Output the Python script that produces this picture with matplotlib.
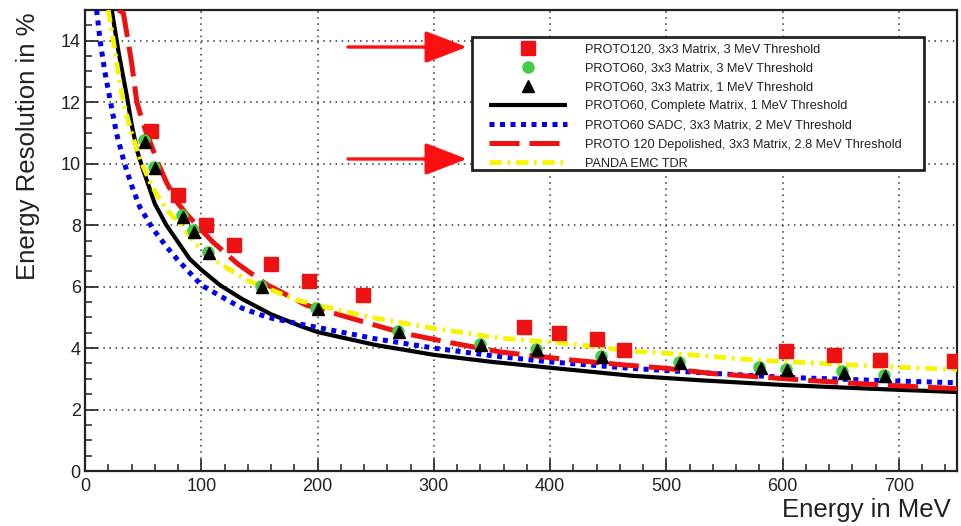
import matplotlib
matplotlib.use("Agg")
import matplotlib.pyplot as plt
from matplotlib.ticker import MultipleLocator
from matplotlib.patches import Rectangle

plt.rcParams['font.family'] = ['Liberation Sans', 'DejaVu Sans']

# ---------------- data ----------------
proto120_E = [56.5, 80, 104.5, 128.5, 160, 192.5, 239, 378, 407.5, 440, 464, 602.5, 644, 684, 747]
proto120_R = [11.06, 8.99, 8.0, 7.35, 6.75, 6.18, 5.72, 4.69, 4.50, 4.29, 3.93, 3.91, 3.76, 3.61, 3.58]

p60_3mev_E = [51, 59.5, 83, 92.5, 106, 151.5, 199, 269, 340, 388, 444, 511, 580, 602.5, 651.5, 687]
p60_3mev_R = [10.76, 9.90, 8.32, 7.83, 7.12, 6.03, 5.31, 4.57, 4.14, 3.97, 3.74, 3.54, 3.38, 3.32, 3.24, 3.13]

p60_1mev_E = [52, 60.5, 84, 93.5, 107, 152.5, 200, 270, 341, 389, 445, 512, 581, 603.5, 652.5, 688]
p60_1mev_R = [10.71, 9.86, 8.27, 7.78, 7.08, 5.99, 5.27, 4.53, 4.10, 3.93, 3.70, 3.50, 3.34, 3.28, 3.20, 3.09]

complete_E = [23, 26, 29, 32, 36, 40, 45, 50, 55, 60, 70, 80, 90, 100, 116, 135, 160, 185, 200,
              250, 300, 350, 400, 470, 530, 600, 680, 750]
complete_R = [15.0, 14.3, 13.6, 13.0, 12.2, 11.3, 10.4, 9.8, 9.25, 8.7, 8.0, 7.45, 6.9, 6.55, 6.05,
              5.6, 5.1, 4.72, 4.52, 4.1, 3.78, 3.55, 3.36, 3.1, 2.95, 2.8, 2.67, 2.57]

sadc_E = [10, 13, 17, 22, 27, 34, 40, 47, 58, 70, 80, 100, 116, 135, 157, 185, 203,
          250, 300, 350, 400, 470, 530, 600, 680, 750]
sadc_R = [15.0, 14.0, 13.0, 12.0, 11.0, 10.0, 9.3, 8.6, 7.9, 7.3, 6.86, 6.05, 5.7, 5.3, 5.0, 4.78, 4.65,
          4.3, 4.0, 3.75, 3.55, 3.34, 3.2, 3.05, 2.95, 2.87]

depol_E = [28.7, 33, 37, 40, 44.6, 50, 56, 63, 70, 80, 90, 100, 110, 131, 157, 170, 190, 229, 272,
           315, 358, 416, 464, 500, 540, 577, 617, 663, 700, 750]
depol_R = [15.0, 14.9, 14.0, 13.3, 12.0, 11.3, 10.7, 10.0, 9.4, 8.7, 8.25, 7.85, 7.45, 6.75, 6.05, 5.8,
           5.4, 4.97, 4.5, 4.17, 3.87, 3.62, 3.45, 3.34, 3.17, 3.07, 2.96, 2.85, 2.77, 2.68]

tdr_E = [20, 24.4, 28, 33, 40, 49, 57, 65, 75, 83, 95, 111, 140, 183, 243, 300, 358, 416, 470,
         525, 577, 634, 692, 750]
tdr_R = [15.0, 14.0, 13.1, 12.0, 11.0, 10.0, 9.3, 8.8, 8.3, 8.0, 7.4, 6.86, 6.2, 5.55, 5.02, 4.64,
         4.32, 4.15, 3.9, 3.77, 3.61, 3.5, 3.39, 3.3]

labels = ["PROTO120, 3x3 Matrix, 3 MeV Threshold",
          "PROTO60, 3x3 Matrix, 3 MeV Threshold",
          "PROTO60, 3x3 Matrix, 1 MeV Threshold",
          "PROTO60, Complete Matrix, 1 MeV Threshold",
          "PROTO60 SADC, 3x3 Matrix, 2 MeV Threshold",
          "PROTO 120 Depolished, 3x3 Matrix, 2.8 MeV Threshold",
          "PANDA EMC TDR"]

xlabel = "Energy in MeV"
ylabel = "Energy Resolution in %"

# ---------------- figure ----------------
fig = plt.figure(figsize=(9.61, 5.26), dpi=100)
ax = fig.add_axes([85/961, 55/526, 872/961, 461/526])

h_black, = ax.plot(complete_E, complete_R, color='black', lw=3.0, solid_capstyle='butt', zorder=3)
h_blue, = ax.plot(sadc_E, sadc_R, color='#0000ee', lw=3.6, dashes=(1, 1.1), zorder=4)
h_red, = ax.plot(depol_E, depol_R, color='#ee1111', lw=3.6, dashes=(6, 2), zorder=5)
h_yel, = ax.plot(tdr_E, tdr_R, color='#f5f500', lw=3.4, dashes=(2.6, 1.2, 0.6, 1.2), zorder=6)

h_sq, = ax.plot(proto120_E, proto120_R, ls='none', marker='s', ms=9.5, color='#ee1111',
                mec='#ee1111', zorder=8)
h_gc, = ax.plot(p60_3mev_E, p60_3mev_R, ls='none', marker='o', ms=8, color='#44cc44',
                mec='#44cc44', zorder=9)
h_tr, = ax.plot(p60_1mev_E, p60_1mev_R, ls='none', marker='^', ms=8.5, color='black',
                mec='black', zorder=10)

ax.set_xlim(0, 750)
ax.set_ylim(0, 15)
ax.xaxis.set_major_locator(MultipleLocator(100))
ax.xaxis.set_minor_locator(MultipleLocator(20))
ax.yaxis.set_major_locator(MultipleLocator(2))
ax.yaxis.set_minor_locator(MultipleLocator(0.5))
ax.tick_params(which='both', direction='in', top=False, right=False, colors='#222222',
               labelsize=13, labelcolor='#222222')
ax.tick_params(which='major', length=9, width=1.2, pad=3)
ax.tick_params(which='minor', length=5, width=1.1)
ax.tick_params(axis='x', which='major', pad=5)
ax.grid(True, which='major', color='#333333', lw=1.1, linestyle=(0, (1, 3)))
for s in ax.spines.values():
    s.set_linewidth(1.6)
    s.set_color('#222222')

ax.set_xlabel(xlabel, fontsize=18.5, loc='right', color='#222222')
ax.xaxis.set_label_coords(0.993, -0.058)
ax.set_ylabel(ylabel, fontsize=18.5, loc='top', color='#222222')
ax.yaxis.set_label_coords(-0.052, 0.994)

# legend frame (drawn separately)
fx0, fx1 = (472 - 85) / 872, (924 - 85) / 872
fy0, fy1 = (471 - 170) / 461, (471 - 37) / 461
frame = Rectangle((fx0, fy0), fx1 - fx0, fy1 - fy0, transform=ax.transAxes,
                  facecolor='white', edgecolor='#222222', lw=2.0, zorder=19, clip_on=False)
ax.add_patch(frame)

leg = ax.legend([h_sq, h_gc, h_tr, h_black, h_blue, h_red, h_yel], labels,
                loc='upper left', bbox_to_anchor=((489 - 85) / 872, (471 - 43) / 461),
                fontsize=9.2, frameon=False,
                handlelength=6.1, handletextpad=1.4, labelspacing=0.56,
                borderpad=0, borderaxespad=0, numpoints=1)
leg.set_zorder(20)
for t in leg.get_texts():
    t.set_color('#222222')

arrow_kw = dict(arrowstyle='-|>,head_length=1.3,head_width=0.5', color='#ff1010', lw=2.4,
                mutation_scale=20, shrinkA=0, shrinkB=0)
ax.annotate('', xy=(0.438, 0.9197), xytext=(0.3016, 0.9197), xycoords='axes fraction',
            arrowprops=arrow_kw, zorder=21)
ax.annotate('', xy=(0.438, 0.6768), xytext=(0.3016, 0.6768), xycoords='axes fraction',
            arrowprops=arrow_kw, zorder=21)

fig.savefig('out.png', dpi=100)
